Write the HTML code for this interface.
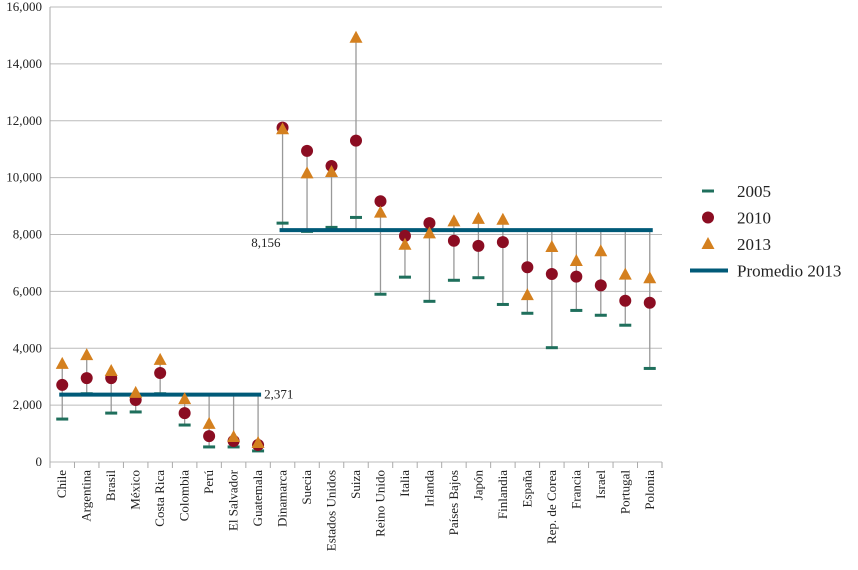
<!DOCTYPE html>
<html><head><meta charset="utf-8"><style>
body{margin:0;background:#fff;width:858px;height:565px;overflow:hidden}
svg text{font-family:"Liberation Serif",serif;fill:#222}
</style></head><body>
<svg id="c" width="858" height="565"></svg>
<script>
const categories=["Chile","Argentina","Brasil","México","Costa Rica","Colombia","Perú","El Salvador","Guatemala","Dinamarca","Suecia","Estados Unidos","Suiza","Reino Unido","Italia","Irlanda","Países Bajos","Japón","Finlandia","España","Rep. de Corea","Francia","Israel","Portugal","Polonia"];
const v2005=[1510,2400,1720,1760,2400,1300,530,530,390,8400,8110,8250,8600,5900,6500,5650,6390,6480,5540,5230,4020,5330,5160,4810,3290];
const v2010=[2710,2950,2950,2180,3130,1720,910,740,600,11760,10940,10410,11300,9170,7950,8400,7780,7600,7730,6850,6610,6520,6210,5670,5600];
const v2013=[3450,3760,3200,2430,3590,2210,1340,880,670,11700,10150,10200,14920,8770,7640,8040,8460,8550,8520,5870,7560,7070,7410,6590,6460];
const avgLeft=2371, avgRight=8156;
const avgLeftRange=[0,8], avgRightRange=[9,24];
const yTicks=[0,2000,4000,6000,8000,10000,12000,14000,16000];
const X0=50,X1=662,Y0=462,Y1=7,YMAX=16000;
const y=v=>Y0-(v/YMAX)*(Y0-Y1);
const svg=document.getElementById('c');
const NS='http://www.w3.org/2000/svg';
function el(t,a,p){const e=document.createElementNS(NS,t);for(const k in a)e.setAttribute(k,a[k]);(p||svg).appendChild(e);return e;}
const bw=(X1-X0)/categories.length;
const xc=i=>X0+bw*(i+0.5);
yTicks.forEach(t=>{
 const g=el('line',{x1:X0,x2:X1,y1:y(t),y2:y(t),stroke:'#bbb','stroke-width':1});
 
 const l=el('text',{x:42,y:y(t)+4,'text-anchor':'end','font-size':13});l.textContent=t.toLocaleString('en-US');
 
});
const ax=el('line',{x1:X0,x2:X0,y1:Y1,y2:Y0+6,stroke:'#aaa'});

for(let k=0;k<=categories.length;k++){const t=el('line',{x1:X0+bw*k,x2:X0+bw*k,y1:Y0,y2:Y0+6,stroke:'#aaa'});}
categories.forEach((c,i)=>{
 const avg=i<=8?avgLeft:avgRight;
 const vals=[v2005[i],v2010[i],v2013[i],avg];
 const ln=el('line',{x1:xc(i),x2:xc(i),y1:y(Math.min(...vals)),y2:y(Math.max(...vals)),stroke:'#999','stroke-width':1.3});
 
 const tx=el('text',{transform:`translate(${xc(i)+4},470) rotate(-90)`,'text-anchor':'end','font-size':13});tx.textContent=c;
 
 const d=el('rect',{x:xc(i)-6,y:y(v2005[i])-1.5,width:12,height:3,fill:'#1f6f5c'});
});
function avgLine(r,v,nm){const a=el('line',{x1:xc(r[0])-3,x2:xc(r[1])+3,y1:y(v),y2:y(v),stroke:'#005a78','stroke-width':4});}
avgLine(avgLeftRange,avgLeft,'average-line-left');avgLine(avgRightRange,avgRight,'average-line-right');
const la=el('text',{x:xc(8)+6,y:y(avgLeft)+4,'font-size':13});la.textContent='2,371';
const lb=el('text',{x:xc(9)-2,y:y(avgRight)+17,'font-size':13,'text-anchor':'end'});lb.textContent='8,156';
categories.forEach((c,i)=>{
 const ci=el('circle',{cx:xc(i),cy:y(v2010[i]),r:6,fill:'#8b0d22'});
 const yy=y(v2013[i]);
 const tr=el('polygon',{points:`${xc(i)},${yy-7} ${xc(i)-6.5},${yy+5} ${xc(i)+6.5},${yy+5}`,fill:'#d4801f'});
});
const L=[['2005','dash'],['2010','circle'],['2013','tri'],['Promedio 2013','line']];
L.forEach((e,k)=>{
 const g=el('g',{});
 const cy=191+k*26.5,cx=708;
 if(e[1]=='dash')el('rect',{x:cx-6,y:cy-1.5,width:12,height:3,fill:'#1f6f5c'},g);
 if(e[1]=='circle')el('circle',{cx:cx,cy:cy,r:6,fill:'#8b0d22'},g);
 if(e[1]=='tri')el('polygon',{points:`${cx},${cy-7} ${cx-6.5},${cy+5} ${cx+6.5},${cy+5}`,fill:'#d4801f'},g);
 if(e[1]=='line')el('line',{x1:690,x2:728,y1:cy,y2:cy,stroke:'#005a78','stroke-width':4},g);
 const t=el('text',{x:737,y:cy+6,'font-size':17},g);t.textContent=e[0];
});
</script>
</body></html>
